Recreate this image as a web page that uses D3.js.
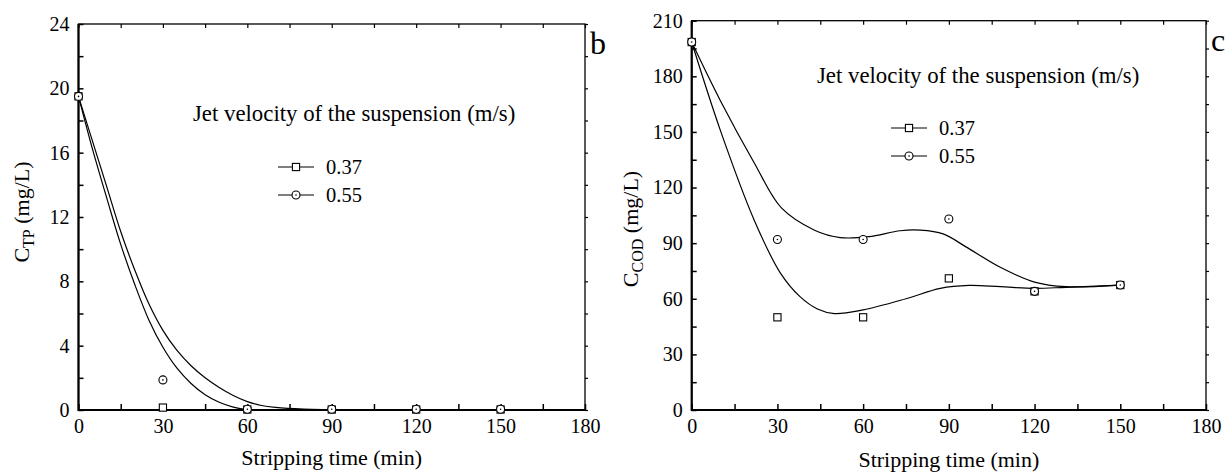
<!DOCTYPE html>
<html><head><meta charset="utf-8">
<script src="https://cdn.jsdelivr.net/npm/d3@7"></script>
<style>
body{margin:0;background:#fff;}
text{font-family:"Liberation Serif","Times New Roman",serif;fill:#000;}
</style></head>
<body><svg id="chart" width="1229" height="473"></svg>
<script>
// ---------- data ----------
const timeCats = [0, 30, 60, 90, 120, 150];
// panel b: C_TP (mg/L)
const tp037 = [19.5, 0.15, 0.03, 0.03, 0.03, 0.03];
const tp055 = [19.5, 1.87, 0.05, 0.05, 0.05, 0.05];
// fitted curves [time, value]
const tpFit037 = [[0,19.5],[5,16.2],[10,13.2],[15,10.3],[20,7.8],[25,5.6],[30,3.9],[35,2.6],[40,1.65],[45,0.95],[50,0.48],[55,0.18],[60,0.03],[70,0],[150,0]];
const tpFit055 = [[0,19.5],[5,16.7],[10,13.9],[15,11.1],[20,8.7],[25,6.6],[30,4.95],[35,3.7],[40,2.75],[45,2.0],[50,1.4],[55,0.9],[60,0.52],[65,0.28],[70,0.16],[80,0.06],[100,0.01],[150,0]];
// panel c: C_COD (mg/L)
const cod037 = [198.5, 50, 50, 71, 64, 67.4];
const cod055 = [198.5, 92, 92, 103, 64, 67.4];
const codFit037 = [[0,198.5],[10,151],[22,102],[31,74],[38,61],[44,54.5],[50,52],[60,54],[75,60],[87,65.6],[97,67.2],[108,66.5],[120,65.6],[131,66.2],[150,67.4]];
const codFit055 = [[0,198.5],[10,167],[22,133],[31.4,109],[43,97],[52,93],[62,93.5],[73,96.7],[80,97],[88,95],[96,88],[108,77],[120,69],[131,66.5],[150,67.4]];
// ticks / labels
const xTicks = [0, 30, 60, 90, 120, 150, 180];
const tpTicks = [0, 4, 8, 12, 16, 20, 24];
const codTicks = [0, 30, 60, 90, 120, 150, 180, 210];
const legendTitle = "Jet velocity of the suspension (m/s)";
const seriesNames = ["0.37", "0.55"];
const xTitle = "Stripping time (min)";

const svg = d3.select("#chart");
const FONT = "'Liberation Serif','Times New Roman',serif";

function panel(o) {
  const g = svg.append("g");
  const x = d3.scaleLinear().domain([0, 180]).range([o.x0, o.x1]);
  const y = d3.scaleLinear().domain([0, o.ymax]).range([o.y0, o.y1]);

  const minorX = d3.range(0, 181, 15);
  const minorY = d3.range(0, o.ymax + 0.001, o.ystep / 2);
  // bottom
  g.append("g").attr("transform", `translate(0,${o.y0})`)
    .call(d3.axisBottom(x).tickValues(minorX).tickSize(-6).tickFormat(""))
    .call(a => { a.select(".domain").remove(); a.selectAll("line").attr("stroke-width", 1.5); });
  g.append("g").attr("transform", `translate(0,${o.y0})`)
    .call(d3.axisBottom(x).tickValues(xTicks).tickSize(0).tickPadding(9))
    .call(a => { a.select(".domain").remove(); a.attr("font-family", null);
      a.selectAll("text").style("font-size", "20px").style("font-family", FONT); });
  // top
  g.append("g").attr("transform", `translate(0,${o.y1})`)
    .call(d3.axisTop(x).tickValues(minorX).tickSize(-4).tickFormat(""))
    .call(a => { a.select(".domain").remove(); a.selectAll("line").attr("stroke-width", 1.2); });
  // left
  g.append("g").attr("transform", `translate(${o.x0},0)`)
    .call(d3.axisLeft(y).tickValues(minorY).tickSize(-5).tickFormat(""))
    .call(a => { a.select(".domain").remove(); a.selectAll("line").attr("stroke-width", 1.5); });
  g.append("g").attr("transform", `translate(${o.x0},0)`)
    .call(d3.axisLeft(y).tickValues(o.ticks).tickSize(0).tickPadding(9))
    .call(a => { a.select(".domain").remove(); a.attr("font-family", null);
      a.selectAll("text").style("font-size", "20px").style("font-family", FONT); });
  // right
  g.append("g").attr("transform", `translate(${o.x1},0)`)
    .call(d3.axisRight(y).tickValues(minorY).tickSize(3).tickFormat(""))
    .call(a => { a.select(".domain").remove(); a.selectAll("line").attr("stroke-width", 1.2); });
  g.append("rect").attr("x", o.x0).attr("y", o.y1).attr("width", o.x1 - o.x0).attr("height", o.y0 - o.y1)
    .attr("fill", "none").attr("stroke", "#000").attr("stroke-width", 1.3);
  g.append("line").attr("x1", o.x0).attr("x2", o.x0).attr("y1", o.y1).attr("y2", o.y0 + 1).attr("stroke", "#000").attr("stroke-width", 2.2);
  g.append("line").attr("x1", o.x0).attr("x2", o.x1).attr("y1", o.y0).attr("y2", o.y0).attr("stroke", "#000").attr("stroke-width", 2.2);

  // fitted curves
  const line = d3.line().x(d => x(d[0])).y(d => y(Math.max(0, d[1]))).curve(d3.curveCatmullRom.alpha(0.5));
  [o.fitA, o.fitB].forEach(f => g.append("path").datum(f).attr("d", line)
    .attr("fill", "none").attr("stroke", "#000").attr("stroke-width", 1.2));

  // markers
  const sq = (sel, cx, cy) => sel.append("rect").attr("x", cx - 3.6).attr("y", cy - 3.6).attr("width", 7.2).attr("height", 7.2)
    .attr("fill", "#fff").attr("stroke", "#000").attr("stroke-width", 1.1);
  const ci = (sel, cx, cy) => {
    sel.append("circle").attr("cx", cx).attr("cy", cy).attr("r", 4).attr("fill", "#fff").attr("stroke", "#000").attr("stroke-width", 1.1);
    sel.append("circle").attr("cx", cx).attr("cy", cy).attr("r", 0.8).attr("fill", "#000");
  };
  timeCats.forEach((t, i) => sq(g, x(t), y(o.sA[i])));
  timeCats.forEach((t, i) => ci(g, x(t), y(o.sB[i])));

  // legend
  g.append("text").attr("x", o.legX).attr("y", o.legY).style("font-size", "22.8px").text(legendTitle);
  [0, 1].forEach(i => {
    const ly = o.legRowY + i * o.legGap;
    g.append("line").attr("x1", o.symX - 18).attr("x2", o.symX + 18).attr("y1", ly).attr("y2", ly).attr("stroke", "#000").attr("stroke-width", 1.1);
    if (i === 0) sq(g, o.symX, ly); else ci(g, o.symX, ly);
    g.append("text").attr("x", o.symX + 30).attr("y", ly + 7).style("font-size", "20.5px").text(seriesNames[i]);
  });

  // panel letter
  g.append("text").attr("x", o.x1 + 5).attr("y", o.y1 + 30).style("font-size", "32px").text(o.letter);

  // x title
  g.append("text").attr("x", (o.x0 + o.x1) / 2).attr("y", o.xTitleY).attr("text-anchor", "middle")
    .style("font-size", "22px").text(xTitle);
  // y title
  const yt = g.append("text").attr("transform", `translate(${o.yTitleX},${o.yTitleY}) rotate(-90)`)
    .attr("text-anchor", "middle").style("font-size", "22px");
  yt.append("tspan").text("C");
  yt.append("tspan").attr("dy", 5).style("font-size", "16px").text(o.sub);
  yt.append("tspan").attr("dy", -5).text(" (mg/L)");
}

panel({x0: 78.5, x1: 585, y0: 410, y1: 24, ymax: 24, ystep: 4, ticks: tpTicks,
  fitA: tpFit037, fitB: tpFit055, sA: tp037, sB: tp055,
  legX: 193, legY: 121, symX: 296, legRowY: 167, legGap: 28,
  letter: "b", xTitleY: 465, yTitleX: 29, yTitleY: 212, sub: "TP"});
panel({x0: 691.7, x1: 1206, y0: 410, y1: 20.7, ymax: 210, ystep: 30, ticks: codTicks,
  fitA: codFit037, fitB: codFit055, sA: cod037, sB: cod055,
  legX: 817, legY: 83, symX: 909, legRowY: 128, legGap: 28,
  letter: "c", xTitleY: 467, yTitleX: 638, yTitleY: 229, sub: "COD"});
</script></body></html>
